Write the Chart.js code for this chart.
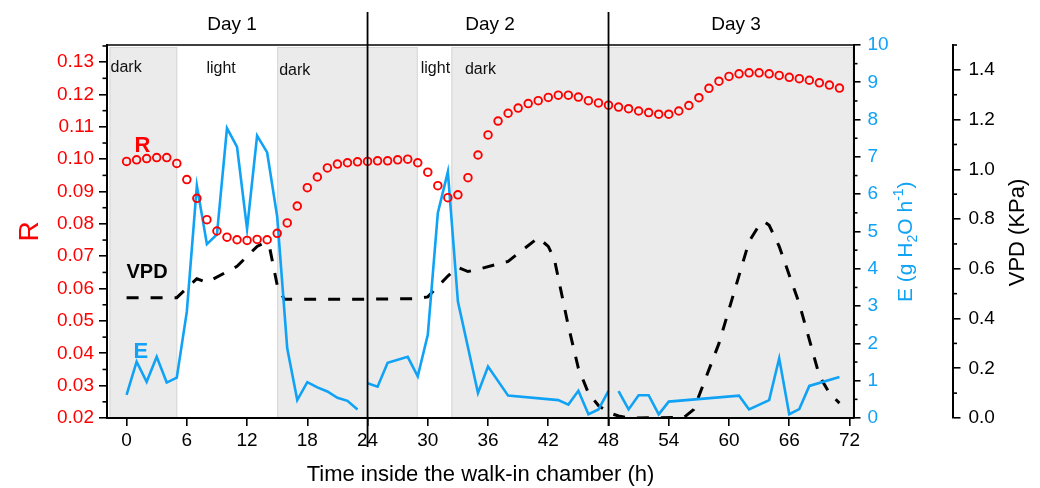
<!DOCTYPE html>
<html><head><meta charset="utf-8">
<script src="https://cdn.jsdelivr.net/npm/chart.js@4.4.1/dist/chart.umd.min.js"></script>
<style>html,body{margin:0;padding:0;background:#fff}#wrap{width:1040px;height:488px;position:relative}</style>
</head><body><div id="wrap"><canvas id="c"></canvas></div>
<script>
// ---------- data ----------
const rHours = [0,1,2,3,4,5,6,7,8,9,10,11,12,13,14,15,16,17,18,19,20,21,22,23,
  24,25,26,27,28,29,30,31,32,33,34,35,36,37,38,39,40,41,42,43,44,45,46,47,
  48,49,50,51,52,53,54,55,56,57,58,59,60,61,62,63,64,65,66,67,68,69,70,71];
const rValues = [0.0993,0.0998,0.1002,0.1005,0.1005,0.0987,0.0937,0.0879,0.0813,0.0778,0.0759,0.0751,0.0749,0.0752,0.0751,0.0771,0.0803,0.0855,0.0912,0.0945,0.0973,0.0985,0.0989,0.0992,
  0.0993,0.0995,0.0995,0.0998,0.1000,0.0989,0.0960,0.0918,0.0881,0.0890,0.0943,0.1013,0.1075,0.1118,0.1142,0.1158,0.1172,0.1181,0.1191,0.1198,0.1198,0.1192,0.1181,0.1174,
  0.1167,0.1161,0.1156,0.1149,0.1144,0.1139,0.1139,0.1149,0.1166,0.1190,0.1219,0.1241,0.1256,0.1264,0.1267,0.1267,0.1264,0.1259,0.1253,0.1249,0.1244,0.1236,0.1229,0.1220];

// null values break the line
const eHours = [0,1,2,3,4,5,6,7,8,9,10,11,12,13,14,15,16,17,18,19,20,21,22,23,23.5,
  24,25,26,28,29,30,31,32,33,35,36,38,43,44,45,46,47,48,48.5,
  49,50,51,52,53,54,61,62,64,65,66,67,68,71];
const eValues = [0.62,1.51,0.97,1.64,0.95,1.08,2.85,6.23,4.66,4.92,7.77,7.27,5.07,7.57,7.12,5.40,1.87,0.48,0.96,0.82,0.71,0.54,0.46,0.23,null,
  0.93,0.84,1.48,1.64,1.12,2.23,5.50,6.60,3.12,0.67,1.38,0.60,0.48,0.36,0.73,0.10,0.23,0.73,null,
  0.72,0.23,0.61,0.61,0.10,0.44,0.60,0.23,0.48,1.60,0.10,0.24,0.86,1.10];

const vpdHours = [0,5,7,8,11,13,13.5,14.2,15,15.7,
  24,29,30,32,33,34,35,38,41,42,42.6,44,45,46,47,48,
  49,50,55.5,56.5,59,62,63,63.5,64,65,67,69,70,71];
const vpdValues = [0.484,0.484,0.56,0.545,0.61,0.69,0.70,0.695,0.535,0.478,
  0.478,0.48,0.487,0.571,0.606,0.589,0.598,0.63,0.725,0.69,0.64,0.37,0.2,0.1,0.05,0.022,
  0.008,0.0,0.002,0.035,0.3,0.71,0.775,0.79,0.775,0.69,0.46,0.17,0.1,0.06];

const xTicks = [0,6,12,18,24,30,36,42,48,54,60,66,72];
const rTicks = [0.02,0.03,0.04,0.05,0.06,0.07,0.08,0.09,0.10,0.11,0.12,0.13];
const eTicks = [0,1,2,3,4,5,6,7,8,9,10];
const vpdTicks = [0,0.2,0.4,0.6,0.8,1.0,1.2,1.4];

const dayNames = ['Day 1','Day 2','Day 3'];
const dayBreaks = [24,48];
const periodStarts = [-1.7,5.05,15.0,29.0,32.35];
const periodEnds   = [5.05,15.0,29.0,32.35,72.4];
const periodNames  = ['dark','light','dark','light','dark'];

// ---------- style ----------
const RED = '#ff0000', BLUE = '#10a2f5', BLACK = '#000';
const FONT = '"Liberation Sans", Arial, sans-serif';
Chart.defaults.font.family = FONT;

const deco = {
  id: 'deco',
  beforeDraw(chart) {
    const {ctx, chartArea: a, scales: {x}} = chart;
    ctx.save();
    periodNames.forEach((n, i) => {
      if (n !== 'dark') return;
      const x0 = x.getPixelForValue(periodStarts[i]);
      const x1 = x.getPixelForValue(periodEnds[i]);
      ctx.fillStyle = '#ebebeb';
      ctx.fillRect(x0, a.top + 2, x1 - x0, a.bottom - a.top - 2);
      ctx.strokeStyle = '#d6d6d6'; ctx.lineWidth = 1;
      ctx.strokeRect(x0 + 0.5, a.top + 2.5, x1 - x0 - 1, a.bottom - a.top - 3);
    });
    ctx.font = '16px ' + FONT; ctx.fillStyle = '#111';
    ctx.textAlign = 'left'; ctx.textBaseline = 'alphabetic';
    const lx = [-1.6, 7.95, 15.2, 29.3, 33.7], ly = [71.5, 72.5, 74.5, 73, 74];
    periodNames.forEach((n, i) => ctx.fillText(n, x.getPixelForValue(lx[i]), ly[i]));
    ctx.restore();
  },
  afterDraw(chart) {
    const {ctx, chartArea: a, scales: {x, yR, yE, yV}} = chart;
    ctx.save();
    ctx.strokeStyle = BLACK;
    // top frame
    ctx.lineWidth = 1.6;
    ctx.beginPath(); ctx.moveTo(a.left - 1, a.top); ctx.lineTo(a.right + 1, a.top); ctx.stroke();
    // day separators
    ctx.lineWidth = 1.8;
    const ends = [447, 426];
    dayBreaks.forEach((d, i) => {
      const px = x.getPixelForValue(d);
      ctx.beginPath(); ctx.moveTo(px, 12); ctx.lineTo(px, ends[i]); ctx.stroke();
    });
    // day labels
    ctx.fillStyle = BLACK; ctx.font = '19px ' + FONT;
    ctx.textAlign = 'center'; ctx.textBaseline = 'alphabetic';
    const dc = [10.5, 36.2, 60.7];
    dayNames.forEach((n, i) => ctx.fillText(n, x.getPixelForValue(dc[i]), 30));
    // minor ticks
    ctx.lineWidth = 1.6;
    const tick = (x0, x1, y) => { ctx.beginPath(); ctx.moveTo(x0, y); ctx.lineTo(x1, y); ctx.stroke(); };
    rTicks.forEach(v => tick(a.left, a.left - 4.5, yR.getPixelForValue(v + 0.005)));
    eTicks.slice(0, -1).forEach(v => tick(a.right, a.right + 3.5, yE.getPixelForValue(v + 0.5)));
    vpdTicks.forEach(v => tick(yV.left, yV.left + 4, yV.getPixelForValue(v + 0.1)));
    // in-plot series labels
    ctx.textAlign = 'left';
    ctx.font = 'bold 22px ' + FONT; ctx.fillStyle = RED; ctx.fillText('R', 134.5, 152);
    ctx.font = 'bold 20px ' + FONT; ctx.fillStyle = BLACK; ctx.fillText('VPD', 126.5, 277.5);
    ctx.font = 'bold 22px ' + FONT; ctx.fillStyle = BLUE; ctx.fillText('E', 133.5, 358);
    // axis titles
    ctx.font = '22px ' + FONT; ctx.fillStyle = BLACK; ctx.textAlign = 'center';
    ctx.fillText('Time inside the walk-in chamber (h)', (a.left + a.right) / 2, 481);
    // R title
    ctx.save(); ctx.translate(38, 231.5); ctx.rotate(-Math.PI / 2);
    ctx.font = '28px ' + FONT; ctx.fillStyle = RED; ctx.fillText('R', 0, 0); ctx.restore();
    // VPD title
    ctx.save(); ctx.translate(1024, 232.5); ctx.rotate(-Math.PI / 2);
    ctx.font = '22px ' + FONT; ctx.fillStyle = BLACK; ctx.fillText('VPD (KPa)', 0, 0); ctx.restore();
    // E title with sub/superscripts
    ctx.save(); ctx.translate(912, 302); ctx.rotate(-Math.PI / 2);
    ctx.fillStyle = BLUE; ctx.textAlign = 'left';
    const big = '21px ' + FONT, small = '14px ' + FONT;
    const parts = [['E (g H', big, 0], ['2', small, 5], ['O h', big, 0], ['-1', small, -9], [')', big, 0]];
    let cx = 0;
    parts.forEach(([t, f, dy]) => { ctx.font = f; ctx.fillText(t, cx, dy); cx += ctx.measureText(t).width; });
    ctx.restore();
    ctx.restore();
  }
};

const fixTicks = arr => s => { s.ticks = arr.map(v => ({value: v})); };
const gridOpt = len => ({display: true, drawOnChartArea: false, drawTicks: true, tickLength: len, color: BLACK, lineWidth: 1.6, tickWidth: 1.6});

new Chart(document.getElementById('c'), {
  type: 'line',
  data: {
    datasets: [
      {label: 'R', data: rHours.map((h, i) => ({x: h, y: rValues[i]})), yAxisID: 'yR', showLine: false,
       pointStyle: 'circle', pointRadius: 3.8, pointBorderWidth: 1.9, pointBorderColor: RED,
       pointBackgroundColor: 'rgba(0,0,0,0)', order: 0},
      {label: 'E', data: eHours.map((h, i) => ({x: h, y: eValues[i]})), yAxisID: 'yE',
       borderColor: BLUE, borderWidth: 2.6, pointRadius: 0, spanGaps: false, tension: 0, order: 1},
      {label: 'VPD', data: vpdHours.map((h, i) => ({x: h, y: vpdValues[i]})), yAxisID: 'yV',
       borderColor: BLACK, borderWidth: 3, borderDash: [12, 12], pointRadius: 0, tension: 0, order: 2}
    ]
  },
  options: {
    responsive: true, maintainAspectRatio: false, animation: false,
    layout: {padding: {top: 45, left: 0, right: 0, bottom: 0}},
    plugins: {legend: {display: false}, tooltip: {enabled: false}},
    scales: {
      x: {type: 'linear', position: 'bottom', min: -1.95, max: 72.45,
          afterBuildTicks: fixTicks(xTicks), afterFit: s => { s.height = 70; },
          ticks: {color: BLACK, font: {size: 19}, padding: 3, maxRotation: 0, autoSkip: false, callback: v => String(v)},
          grid: gridOpt(8), border: {color: BLACK, width: 2}},
      yR: {type: 'linear', position: 'left', min: 0.02, max: 0.1353,
           afterBuildTicks: fixTicks(rTicks), afterFit: s => { s.width = 107; },
           ticks: {color: RED, font: {size: 19}, padding: 5, callback: v => v.toFixed(2)},
           grid: gridOpt(8), border: {color: BLACK, width: 2}},
      yE: {type: 'linear', position: 'right', weight: 0, min: 0, max: 10,
           afterBuildTicks: fixTicks(eTicks), afterFit: s => { s.width = 99; },
           ticks: {color: BLUE, font: {size: 19}, padding: 7, callback: v => String(v)},
           grid: gridOpt(6.5), border: {color: BLACK, width: 2}},
      yV: {type: 'linear', position: 'right', weight: 1, min: 0, max: 1.5,
           afterBuildTicks: fixTicks(vpdTicks), afterFit: s => { s.width = 87; },
           ticks: {color: BLACK, font: {size: 19}, padding: 8, callback: v => v.toFixed(1)},
           grid: gridOpt(7.5), border: {color: BLACK, width: 2}}
    }
  },
  plugins: [deco]
});
</script>
</body></html>
